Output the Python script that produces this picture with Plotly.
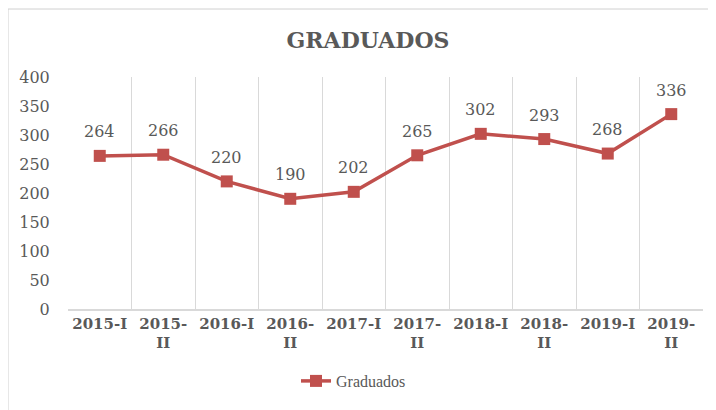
import plotly.graph_objects as go

categories = ["2015-I", "2015-<br>II", "2016-I", "2016-<br>II", "2017-I", "2017-<br>II",
              "2018-I", "2018-<br>II", "2019-I", "2019-<br>II"]
graduados = [264, 266, 220, 190, 202, 265, 302, 293, 268, 336]
y_ticks = [0, 50, 100, 150, 200, 250, 300, 350, 400]

RED = "#C0504D"
GRAY = "#595959"
FONT = "DejaVu Serif"

W, H = 716, 410
OFF = 8  # page body offset
pw, ph = 635, 232
L, T = 68 - OFF, 77 - OFF
R, B = W - L - pw, H - T - ph

fig = go.Figure()
fig.add_trace(go.Scatter(
    x=categories, y=graduados, mode="lines+markers",
    name="Graduados",
    line=dict(color=RED, width=3.5),
    marker=dict(symbol="square", size=12, color=RED),
))

annotations = [dict(x=c, y=v, text=str(v), showarrow=False, yshift=24,
                    font=dict(family=FONT, size=16, color=GRAY))
               for c, v in zip(categories, graduados)]

fig.update_layout(
    width=W, height=H,
    margin=dict(l=L, r=R, t=T, b=B),
    paper_bgcolor="white", plot_bgcolor="white",
    title=dict(text="<b>GRADUADOS</b>", x=(368 - OFF) / W, xanchor="center",
               y=1 - (40 - OFF) / H, yanchor="middle",
               font=dict(family=FONT, size=22, color=GRAY)),
    showlegend=True,
    legend=dict(orientation="h", x=(296 - 68) / pw, xanchor="left", y=-(381 - 309) / ph, yanchor="middle",
                font=dict(family="Liberation Serif", size=16, color=GRAY)),
    annotations=annotations,
    xaxis=dict(type="category", tickson="boundaries", showgrid=True, gridcolor="#D9D9D9",
               showline=True, linecolor="#D9D9D9", linewidth=1.5, ticks="", automargin=False,
               tickfont=dict(family=FONT, size=15, color=GRAY, weight="bold"), range=[-0.5, 9.5]),
    yaxis=dict(range=[0, 400], tickvals=y_ticks, showgrid=False, zeroline=False, automargin=False,
               tickfont=dict(family=FONT, size=16, color=GRAY),
               ticks="outside", ticklen=14, tickcolor="rgba(0,0,0,0)"),
    shapes=[dict(type="rect", xref="paper", yref="paper",
                 x0=(8 - 68) / pw, x1=(W + 5 - 68) / pw,
                 y0=-(H + 5 - 309) / ph, y1=(309 - 9) / ph,
                 line=dict(color="#D0D0D0", width=1), layer="below")],
)

fig.write_html("out.html")
